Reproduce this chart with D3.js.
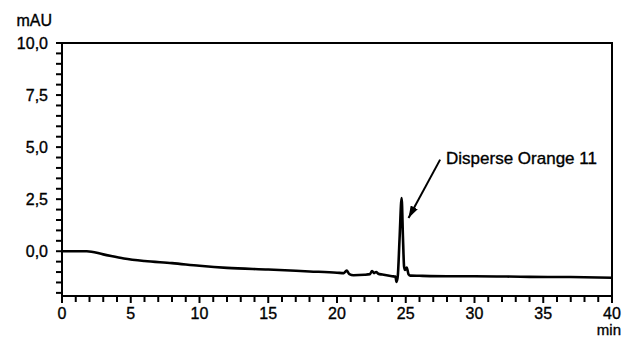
<!DOCTYPE html>
<html>
<head>
<meta charset="utf-8">
<script src="https://cdn.jsdelivr.net/npm/d3@7"></script>
<style>
  body { margin: 0; background: #fff; }
  svg text { font-family: "Liberation Sans", Arial, Helvetica, sans-serif; fill: #000; stroke: #000; stroke-width: 0.35px; }
</style>
</head>
<body>
<div id="chart"></div>
<script>
// chromatogram trace (min, mAU)
const timeMin = [0, 1.8, 3, 4.5, 6, 8, 10, 12, 15, 18, 20, 20.5, 20.7, 20.9, 21.2, 22, 22.4, 22.55,
  22.7, 22.85, 23.0, 23.3, 24.0, 24.25, 24.33, 24.42, 24.55, 24.7, 24.8, 24.88, 24.95, 25.07, 25.2,
  25.35, 26, 28, 30, 34, 37, 40];
const signalMAU = [0, 0, -0.15, -0.35, -0.47, -0.57, -0.7, -0.8, -0.88, -0.97, -1.03, -1.05, -0.93,
  -1.1, -1.15, -1.13, -1.1, -0.95, -1.05, -1.0, -1.08, -1.12, -1.2, -1.22, -1.48, -1.2, 0.6, 2.55,
  0.6, -0.75, -0.9, -0.78, -1.1, -1.17, -1.18, -1.2, -1.2, -1.23, -1.24, -1.27];

const xTicks = [0, 5, 10, 15, 20, 25, 30, 35, 40];
const yTicks = [0, 2.5, 5, 7.5, 10];
const peakLabel = 'Disperse Orange 11';
const arrowFrom = [27.5, 4.4];
const arrowTo = [25.2, 1.6];
const labelAt = [27.93, 4.17];

const width = 624, height = 337;
const margin = { top: 43, right: 12, bottom: 41, left: 62 };

const svg = d3.select('#chart').append('svg')
  .attr('width', width)
  .attr('height', height);

const x = d3.scaleLinear().domain([0, 40]).range([margin.left, width - margin.right]);
const y = d3.scaleLinear().domain([-2.15, 10]).range([height - margin.bottom, margin.top]);

// frame (top and right)
svg.append('path')
  .attr('d', `M${margin.left - 2},${y(10)}H${x(40)}V${y(-2.15)}`)
  .attr('fill', 'none').attr('stroke', '#000').attr('stroke-width', 2);

// y axis with minor ticks every 0.5
const yAxis = svg.append('g').attr('transform', `translate(${margin.left},0)`);
yAxis.append('line')
  .attr('x1', 0).attr('x2', 0).attr('y1', y(10)).attr('y2', y(-2.15) + 1)
  .attr('stroke', '#000').attr('stroke-width', 2);
yAxis.selectAll('.ytick')
  .data(d3.range(-2, 10.01, 0.5))
  .enter().append('line')
  .attr('x1', -6).attr('x2', 0)
  .attr('y1', d => y(d)).attr('y2', d => y(d))
  .attr('stroke', '#000').attr('stroke-width', 2);
yAxis.selectAll('.ylab')
  .data(yTicks)
  .enter().append('text')
  .attr('x', -14).attr('y', d => y(d) + 6)
  .attr('text-anchor', 'end')
  .style('font-size', '16px')
  .text(d => d3.format('.1f')(d).replace('.', ','));
svg.append('text')
  .attr('x', 52).attr('y', 26)
  .attr('text-anchor', 'end')
  .style('font-size', '16px')
  .text('mAU');

// x axis with minor ticks every minute
const xAxis = svg.append('g').attr('transform', `translate(0,${y(-2.15)})`);
xAxis.append('line')
  .attr('x1', margin.left - 1).attr('x2', x(40) + 1).attr('y1', 0).attr('y2', 0)
  .attr('stroke', '#000').attr('stroke-width', 2);
xAxis.selectAll('.xtick')
  .data(d3.range(0, 41, 1))
  .enter().append('line')
  .attr('x1', d => x(d)).attr('x2', d => x(d))
  .attr('y1', 0).attr('y2', d => d % 5 === 0 ? 7 : 6)
  .attr('stroke', '#000').attr('stroke-width', 2);
xAxis.selectAll('.xlab')
  .data(xTicks)
  .enter().append('text')
  .attr('x', d => x(d)).attr('y', 23)
  .attr('text-anchor', 'middle')
  .style('font-size', '16px')
  .text(d => d);
svg.append('text')
  .attr('x', 621).attr('y', 335)
  .attr('text-anchor', 'end')
  .style('font-size', '15px')
  .text('min');

// trace
const pts = timeMin.map((t, i) => [t, signalMAU[i]]);
svg.append('path')
  .datum(pts)
  .attr('fill', 'none')
  .attr('stroke', '#000')
  .attr('stroke-width', 2.6)
  .attr('stroke-linejoin', 'round')
  .attr('d', d3.line().curve(d3.curveMonotoneX).x(d => x(d[0])).y(d => y(d[1])));

// annotation
svg.append('defs').append('marker')
  .attr('id', 'arrow')
  .attr('viewBox', '0 0 12 8')
  .attr('refX', 12).attr('refY', 4)
  .attr('markerWidth', 12).attr('markerHeight', 8)
  .attr('markerUnits', 'userSpaceOnUse')
  .attr('orient', 'auto')
  .append('path').attr('d', 'M0,0L12,4L0,8Z').attr('fill', '#000');

svg.append('line')
  .attr('x1', x(arrowFrom[0])).attr('y1', y(arrowFrom[1]))
  .attr('x2', x(arrowTo[0])).attr('y2', y(arrowTo[1]))
  .attr('stroke', '#000').attr('stroke-width', 2)
  .attr('marker-end', 'url(#arrow)');

svg.append('text')
  .attr('x', x(labelAt[0])).attr('y', y(labelAt[1]))
  .style('font-size', '17px')
  .text(peakLabel);
</script>
</body>
</html>
